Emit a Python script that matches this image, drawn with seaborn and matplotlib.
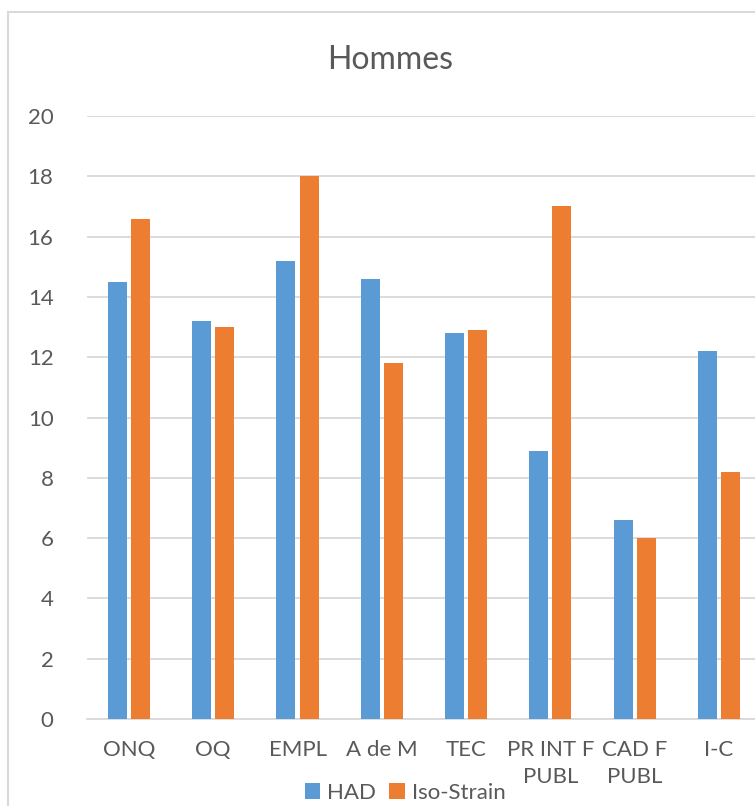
import pandas as pd
import seaborn as sns
import matplotlib.pyplot as plt
from matplotlib.patches import Rectangle

# Data
categories = ["ONQ", "OQ", "EMPL", "A de M", "TEC", "PR INT F\nPUBL", "CAD F\nPUBL", "I-C"]
had = [14.5, 13.2, 15.2, 14.6, 12.8, 8.9, 6.6, 12.2]
iso_strain = [16.6, 13.0, 18.0, 11.8, 12.9, 17.0, 6.0, 8.2]
series = ["HAD", "Iso-Strain"]
yticks = [0, 2, 4, 6, 8, 10, 12, 14, 16, 18, 20]

df = pd.DataFrame({
    "cat": categories * 2,
    "val": had + iso_strain,
    "serie": [series[0]] * len(categories) + [series[1]] * len(categories),
})

sns.set_style("white")
plt.rcParams["font.family"] = ["Lato", "DejaVu Sans"]
txt = "#595959"

fig = plt.figure(figsize=(7.55, 8.06), dpi=100)
ax = fig.add_axes([0.115, 0.108, 0.893, 0.748])

sns.barplot(data=df, x="cat", y="val", hue="serie", order=categories,
            palette=["#5B9BD5", "#ED7D31"], width=0.548, gap=0.175,
            saturation=1, linewidth=0, ax=ax, zorder=3)

ax.set_ylim(0, 20)
ax.set_xlim(-0.5, len(categories) - 0.5)
ax.set_yticks(yticks)
ax.yaxis.grid(True, color="#D9D9D9", linewidth=1.3, zorder=0)
for s in ["top", "right", "left"]:
    ax.spines[s].set_visible(False)
ax.spines["bottom"].set_color("#D9D9D9")
ax.spines["bottom"].set_linewidth(1.3)
ax.tick_params(axis="y", length=0, pad=24, labelsize=16, labelcolor=txt)
ax.tick_params(axis="x", length=0, pad=15, labelsize=16, labelcolor=txt)
for lab in ax.get_xticklabels():
    lab.set_linespacing(1.45)
ax.set_xlabel("")
ax.set_ylabel("")

fig.text(0.517, 0.926, "Hommes", ha="center", va="center", fontsize=23, color=txt)

leg = ax.legend(loc="center", bbox_to_anchor=(0.472, -0.122), ncol=2, frameon=False,
                fontsize=16, handlelength=0.7, handleheight=0.7, handletextpad=0.3,
                columnspacing=0.6, borderpad=0)
for t in leg.get_texts():
    t.set_color(txt)

# chart border
fig.patches.append(Rectangle((8 / 755, -0.05), 1.1, 1 - 12 / 806 + 0.05,
                             transform=fig.transFigure, fill=False,
                             edgecolor="#D9D9D9", linewidth=1.5))

plt.savefig("out.png", dpi=100)
